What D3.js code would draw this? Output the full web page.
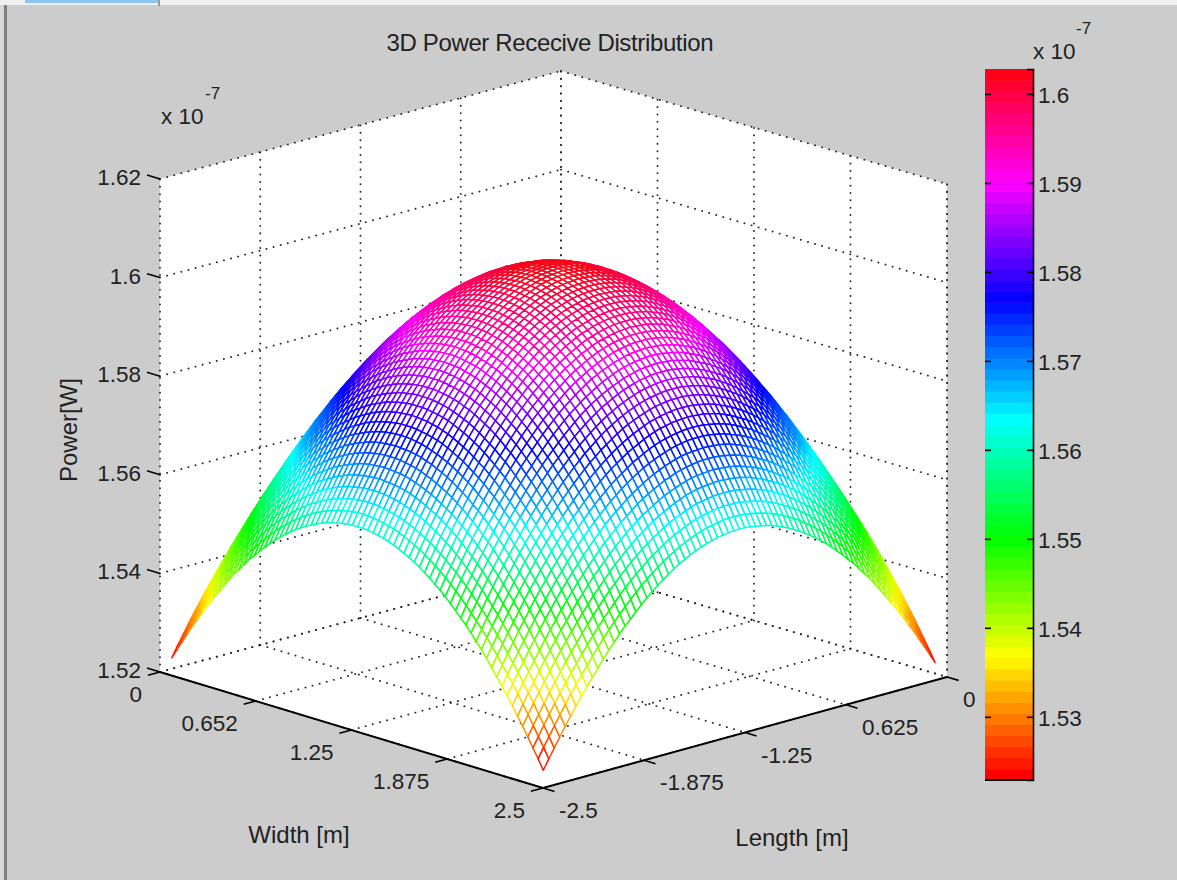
<!DOCTYPE html>
<html lang="en">
<head>
  <meta charset="UTF-8" />
  <title>3D Power Rececive Distribution</title>
  <script src="https://d3js.org/d3.v7.min.js"></script>
  <style>
    body { margin: 0; background: #cccccc; }
    svg { display: block; }
    text { font-family: 'Liberation Sans', sans-serif; font-size: 22.5px; fill: #222; }
    .label { font-size: 24px; }
    .grid { fill: none; stroke: #2a2a2a; stroke-width: 1.9; stroke-linecap: round; stroke-dasharray: 0.1 7.25; }
    .edge { fill: none; stroke: #000; stroke-width: 2; }
    .mark { fill: none; stroke: #000; stroke-width: 1.6; }
    .cell { stroke-width: 1.5; stroke-linejoin: round; }
  </style>
</head>
<body>
<svg width="1177" height="880"></svg>

<script>
// axis ticks
const widthTicks = [0, 0.625, 1.25, 1.875, 2.5];
const widthLabels = ["0", "0.652", "1.25", "1.875", "2.5"];
const lengthTicks = [-2.5, -1.875, -1.25, -0.625, 0];
const lengthLabels = ["-2.5", "-1.875", "-1.25", "0.625", "0"];
const powerTicks = [1.52, 1.54, 1.56, 1.58, 1.6, 1.62];
const powerLabels = ["1.52", "1.54", "1.56", "1.58", "1.6", "1.62"];
const colorbarTicks = [1.53, 1.54, 1.55, 1.56, 1.57, 1.58, 1.59, 1.6];

// peak of the dome, x 10^-7 W
const peakPower = 1.6028;

// drop below the peak in units of 10^-11 W, estimated off the surface.
// The dome looks the same in all four quadrants and across the diagonal so
// only one triangle is kept: row = cells from centre on the farther axis.
const dropRows = [
  [0],
  [0,1],
  [1,2,3],
  [3,3,4,6],
  [5,6,7,8,11],
  [8,9,10,11,14,17],
  [12,13,14,15,18,21,24],
  [17,17,18,20,22,25,29,33],
  [22,22,23,25,27,30,34,38,43],
  [27,28,29,30,33,36,39,44,49,55],
  [34,34,35,37,39,42,46,50,55,61,67],
  [41,41,42,44,46,49,53,57,62,68,74,81],
  [49,49,50,52,54,57,61,65,70,76,82,89,97],
  [57,57,58,60,62,65,69,73,78,84,90,97,105,113],
  [66,66,67,69,71,74,78,82,87,93,99,106,114,122,131],
  [75,76,77,78,81,84,87,92,97,102,109,116,123,132,140,150],
  [86,86,87,89,91,94,98,102,107,113,119,126,133,142,151,160,170],
  [97,97,98,100,102,105,109,113,118,124,130,137,144,152,161,171,181,192],
  [108,109,110,111,114,117,120,125,129,135,141,148,156,164,173,182,192,203,214],
  [120,121,122,124,126,129,132,137,142,147,154,161,168,176,185,194,204,215,226,238],
  [133,134,135,136,139,142,145,150,155,160,166,173,180,188,197,207,217,228,239,251,263],
  [147,147,148,150,152,155,159,163,168,174,180,186,194,202,211,220,230,241,252,264,276,289],
  [161,161,162,164,166,169,173,177,182,187,194,200,208,216,225,234,244,255,266,278,290,303,317],
  [176,176,177,179,181,184,187,192,196,202,208,215,222,230,239,249,258,269,280,292,304,317,331,345],
  [191,191,192,194,196,199,203,207,212,217,223,230,238,246,254,264,273,284,295,307,319,332,345,360,374],
  [207,207,208,210,212,215,218,223,228,233,239,246,253,261,270,279,289,299,311,322,335,348,361,375,390,405],
  [223,224,225,226,229,231,235,239,244,250,256,262,270,278,286,295,305,316,327,338,351,363,377,391,405,420,436],
  [241,241,242,244,246,249,252,256,261,267,273,279,287,295,303,312,322,332,343,355,367,380,393,407,422,437,452,469],
  [258,258,259,261,263,266,270,274,279,284,290,297,304,312,320,330,339,350,361,372,384,397,410,424,438,454,469,485,502],
  [276,277,278,279,281,284,288,292,297,302,308,315,322,330,338,348,357,367,378,390,402,415,428,442,456,471,486,502,519,536],
  [295,295,296,298,300,303,306,311,315,321,327,333,340,348,357,366,376,386,397,408,420,433,446,460,474,489,504,520,537,554,571],
  [314,315,316,317,319,322,326,330,335,340,346,353,360,367,376,385,394,405,416,427,439,452,464,478,493,507,523,539,555,572,590,607],
  [334,335,336,337,339,342,345,350,354,360,366,372,379,387,395,404,414,424,435,446,458,471,484,497,512,526,542,557,574,590,608,626,644],
  [355,355,356,358,360,362,366,370,375,380,386,392,400,407,416,424,434,444,455,466,478,490,503,517,531,546,561,577,593,610,627,645,663,682],
  [376,376,377,379,381,384,387,391,396,401,407,413,420,428,436,445,455,464,475,486,498,511,524,537,551,566,581,597,613,629,647,664,682,701,720],
  [397,397,398,400,402,405,408,412,417,422,428,434,441,449,457,466,475,485,496,507,519,531,544,557,571,586,601,617,633,649,666,684,702,721,740,759],
  [419,419,420,422,424,427,430,434,439,444,450,456,463,471,479,488,497,507,518,529,541,552,565,579,592,607,623,638,654,670,687,705,722,741,760,779,799]
];

const half = dropRows.length - 1;
const power = (i, j) => {
  const a = Math.abs(i), b = Math.abs(j);
  return peakPower - dropRows[Math.max(a, b)][Math.min(a, b)] * 1e-4;
};

const svg = d3.select("svg");

// the box floor corners on the page
const corner = {
  left: [160, 672],
  front: [543, 788],
  right: [947, 677],
  back: [561, 564]
};

const uScale = d3.scaleLinear().domain([0, 2.5]).range([0, 1]);
const vScale = d3.scaleLinear().domain([-2.5, 0]).range([0, 1]);
const zScale = d3.scaleLinear().domain([1.52, 1.62]).range([0, -493]);

// bilinear over the floor, then lift by power
function project(w, l, z) {
  const u = uScale(w), v = vScale(l);
  const mix = k => (1 - u) * (1 - v) * corner.left[k] + u * (1 - v) * corner.front[k]
    + u * v * corner.right[k] + (1 - u) * v * corner.back[k];
  return [mix(0), mix(1) + zScale(z)];
}

const line = d3.line();
const zMin = 1.52, zMax = 1.62, wMax = 2.5, lMin = -2.5;

// window bits round the figure
svg.append("rect").attr("width", 1177).attr("height", 5).attr("fill", "#f0f0f0");
svg.append("rect").attr("x", 25).attr("width", 133).attr("height", 3).attr("fill", "#8cc6f0");
svg.append("rect").attr("x", 158).attr("width", 2).attr("height", 6).attr("fill", "#999");
svg.append("rect").attr("y", 5).attr("width", 4).attr("height", 875).attr("fill", "#d8d8d8");
svg.append("rect").attr("x", 4).attr("y", 5).attr("width", 3).attr("height", 875).attr("fill", "#808080");

// walls and floor
const panels = [
  [[0, lMin, zMin], [0, lMin, zMax], [0, 0, zMax], [0, 0, zMin]],
  [[0, 0, zMin], [0, 0, zMax], [wMax, 0, zMax], [wMax, 0, zMin]],
  [[0, lMin, zMin], [wMax, lMin, zMin], [wMax, 0, zMin], [0, 0, zMin]]
];
svg.append("g").selectAll("path").data(panels).join("path")
  .attr("d", d => line(d.map(p => project(...p))) + "Z")
  .attr("fill", "#fff");

// dotted grid
const gridLines = [
  ...lengthTicks.map(l => [[0, l, zMin], [0, l, zMax]]),
  ...widthTicks.map(w => [[w, 0, zMin], [w, 0, zMax]]),
  ...powerTicks.map(z => [[0, lMin, z], [0, 0, z]]),
  ...powerTicks.map(z => [[0, 0, z], [wMax, 0, z]]),
  ...widthTicks.map(w => [[w, lMin, zMin], [w, 0, zMin]]),
  ...lengthTicks.map(l => [[0, l, zMin], [wMax, l, zMin]]),
  [[wMax, 0, zMin], [wMax, 0, zMax]]
];
svg.append("g").selectAll("path").data(gridLines).join("path")
  .attr("class", "grid")
  .attr("d", d => line(d.map(p => project(...p))));

// the two solid floor edges
svg.append("path").attr("class", "edge")
  .attr("d", line([[0, lMin, zMin], [wMax, lMin, zMin], [wMax, 0, zMin]].map(p => project(...p))));

// tick marks
const tickLines = [
  ...powerTicks.map(z => [[0, lMin, z], [-0.085, lMin, z]]),
  ...widthTicks.map(w => [[w, lMin, zMin], [w, lMin - 0.075, zMin]]),
  ...lengthTicks.map(l => [[wMax, l, zMin], [wMax + 0.075, l, zMin]])
];
svg.append("g").selectAll("path").data(tickLines).join("path")
  .attr("class", "mark")
  .attr("d", d => line(d.map(p => project(...p))));

// 64 band hsv colormap, same as the colorbar
const colorScale = d3.scaleQuantize()
  .domain([peakPower - 799e-4, peakPower])
  .range(d3.range(64).map(k => d3.hsl(k * 360 / 64, 1, 0.5).formatHex()));

// mesh cells, painted back to front so each white face hides what is behind it
const meshW = d3.scaleLinear().domain([-half, half]).range([0.0375, 2.4625]);
const meshL = d3.scaleLinear().domain([-half, half]).range([-2.4625, -0.0375]);
const meshPoint = (i, j) => project(meshW(i), meshL(j), power(i, j));

const cells = [];
d3.range(-half, half).forEach(i => {
  d3.range(-half, half).forEach(j => cells.push({ i, j }));
});
cells.sort((a, b) => (a.i - a.j) - (b.i - b.j));

svg.append("g").selectAll("path").data(cells).join("path")
  .attr("class", "cell")
  .attr("fill", "#fff")
  .attr("stroke", d => colorScale((power(d.i, d.j) + power(d.i + 1, d.j + 1)) / 2))
  .attr("d", d => line([
    meshPoint(d.i, d.j), meshPoint(d.i + 1, d.j),
    meshPoint(d.i + 1, d.j + 1), meshPoint(d.i, d.j + 1)
  ]) + "Z");

// tick labels
powerTicks.forEach((z, k) => {
  const p = project(0, lMin, z);
  svg.append("text").attr("x", p[0] - 19).attr("y", p[1] + 6)
    .attr("text-anchor", "end").text(powerLabels[k]);
});
widthTicks.forEach((w, k) => {
  const p = project(w, lMin, zMin);
  svg.append("text").attr("x", p[0] - 18).attr("y", p[1] + 30)
    .attr("text-anchor", "end").text(widthLabels[k]);
});
lengthTicks.forEach((l, k) => {
  const p = project(wMax, l, zMin);
  svg.append("text").attr("x", p[0] + 16).attr("y", p[1] + 30).text(lengthLabels[k]);
});

// titles
svg.append("text").attr("class", "label").attr("x", 550).attr("y", 51).attr("text-anchor", "middle")
  .attr("textLength", 327).text("3D Power Rececive Distribution");
svg.append("text").attr("class", "label").attr("x", 299).attr("y", 843).attr("text-anchor", "middle").text("Width [m]");
svg.append("text").attr("class", "label").attr("x", 792).attr("y", 846).attr("text-anchor", "middle").text("Length [m]");
svg.append("text").attr("class", "label").attr("transform", "translate(77,430) rotate(-90)")
  .attr("text-anchor", "middle").text("Power[W]");
svg.append("text").attr("x", 161).attr("y", 124).text("x 10");
svg.append("text").attr("x", 205).attr("y", 99).style("font-size", "17px").text("-7");

// colorbar
const barY = d3.scaleLinear().domain(colorScale.domain()).range([780, 69]);
const bar = svg.append("g");
bar.selectAll("rect").data(colorScale.range()).join("rect")
  .attr("x", 985).attr("width", 48)
  .attr("y", c => barY(colorScale.invertExtent(c)[1]))
  .attr("height", c => barY(colorScale.invertExtent(c)[0]) - barY(colorScale.invertExtent(c)[1]) + 0.5)
  .attr("fill", c => c);

const barAxis = svg.append("g").attr("transform", "translate(1033,0)")
  .call(d3.axisRight(barY).tickValues(colorbarTicks).tickSize(-6).tickFormat(d => d));
barAxis.attr("font-size", null).attr("font-family", null);
barAxis.select(".domain").attr("stroke-width", 1.6);
barAxis.selectAll("line").attr("stroke-width", 1.6);
barAxis.selectAll("text").attr("x", 5).attr("dy", "0.4em");

const barLeft = svg.append("g").attr("transform", "translate(985,0)")
  .call(d3.axisLeft(barY).tickValues(colorbarTicks).tickSize(-6).tickFormat(""));
barLeft.select(".domain").remove();
barLeft.selectAll("line").attr("stroke-width", 1.6);

svg.append("line").attr("x1", 985).attr("x2", 1033).attr("y1", 780).attr("y2", 780)
  .attr("stroke", "#000").attr("stroke-width", 2);
svg.append("text").attr("x", 1033).attr("y", 59).text("x 10");
svg.append("text").attr("x", 1076).attr("y", 34).style("font-size", "17px").text("-7");
</script>
</body>
</html>
